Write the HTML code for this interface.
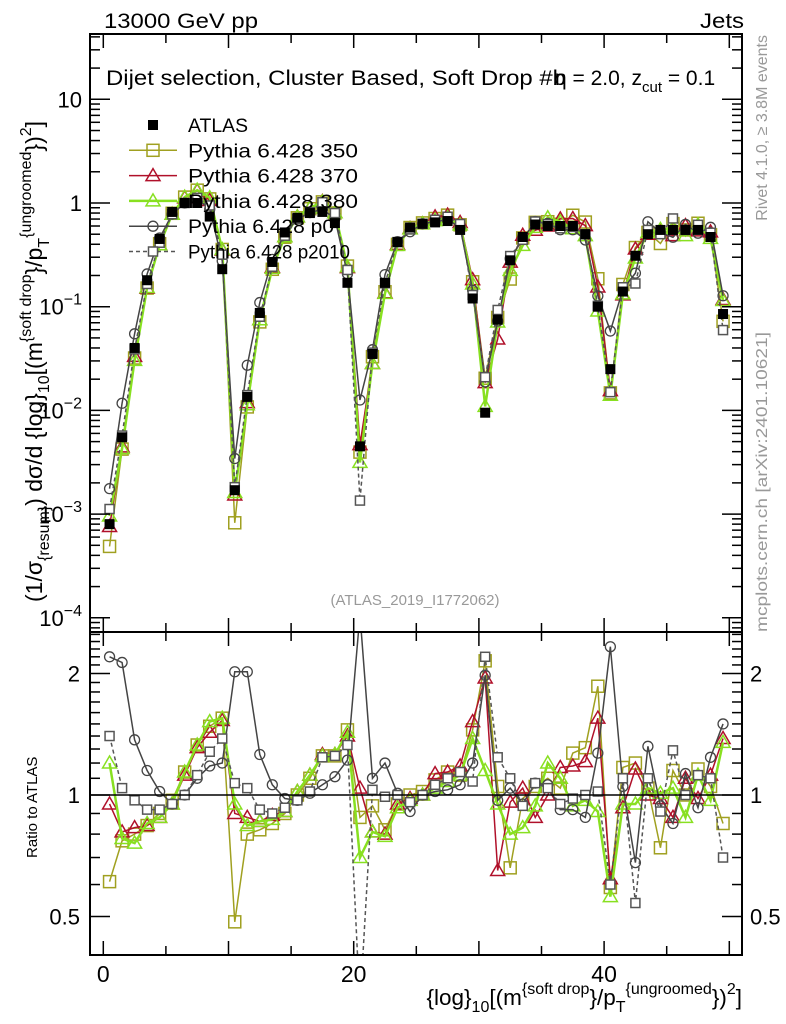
<!DOCTYPE html>
<html><head><meta charset="utf-8">
<style>
html,body{margin:0;padding:0;background:#fff;}
svg{display:block;font-family:"Liberation Sans",sans-serif;}
</style></head>
<body>
<svg id="chart" width="786" height="1024" viewBox="0 0 786 1024" xmlns="http://www.w3.org/2000/svg">
  <rect x="0" y="0" width="786" height="1024" fill="#fff"/>
  <g id="main-marks"></g>
  <g id="ratio-marks"></g>
  <rect x="90" y="34" width="652" height="598" fill="none" stroke="#000" stroke-width="2"/>
  <rect x="90" y="632" width="652" height="323" fill="none" stroke="#000" stroke-width="2"/>
  <g id="axes"></g>
  <text x="104" y="28" font-size="21" textLength="154" lengthAdjust="spacingAndGlyphs">13000 GeV pp</text>
  <text x="700" y="28" font-size="21" textLength="44" lengthAdjust="spacingAndGlyphs">Jets</text>
  <text x="106" y="85" font-size="21" textLength="460" lengthAdjust="spacingAndGlyphs">Dijet selection, Cluster Based, Soft Drop #b</text>
  <text x="555" y="85" font-size="21">η = 2.0, z<tspan font-size="15" dy="7">cut</tspan><tspan dy="-7"> = 0.1</tspan></text>
  <text x="415" y="605" font-size="15" fill="#999" text-anchor="middle">(ATLAS_2019_I1772062)</text>
  <text transform="translate(767,35) rotate(-90)" font-size="16" fill="#999" text-anchor="end">Rivet 4.1.0, ≥ 3.8M events</text>
  <text transform="translate(767,632) rotate(-90)" font-size="16" fill="#999" textLength="300" lengthAdjust="spacingAndGlyphs">mcplots.cern.ch [arXiv:2401.10621]</text>
  <text transform="translate(42,602) rotate(-90)" font-size="23">(1/σ<tspan font-size="16" dy="7">{resum}</tspan><tspan dy="-7">) dσ/d {log}</tspan><tspan font-size="16" dy="7">10</tspan><tspan dy="-7">[(m</tspan><tspan font-size="16" dy="-11">{soft drop</tspan><tspan dy="11">}/p</tspan><tspan font-size="16" dy="7">T</tspan><tspan font-size="16" dy="-18">{ungroomed</tspan><tspan dy="11">})</tspan><tspan font-size="16" dy="-11">2</tspan><tspan dy="11">]</tspan></text>
  <text transform="translate(37,858) rotate(-90)" font-size="15">Ratio to ATLAS</text>
  <text x="742" y="1005" font-size="22.5" text-anchor="end">{log}<tspan font-size="16" dy="7">10</tspan><tspan dy="-7">[(m</tspan><tspan font-size="16" dy="-11">{soft drop</tspan><tspan dy="11">}/p</tspan><tspan font-size="16" dy="7">T</tspan><tspan font-size="16" dy="-18">{ungroomed</tspan><tspan dy="11">})</tspan><tspan font-size="16" dy="-11">2</tspan><tspan dy="11">]</tspan></text>
  <g id="legend"></g>
</svg>
<script>
// ---- data ----
const binCenters = [0.5,1.5,2.5,3.5,4.5,5.5,6.5,7.5,8.5,9.5,10.5,11.5,12.5,13.5,14.5,15.5,16.5,17.5,18.5,19.5,20.5,21.5,22.5,23.5,24.5,25.5,26.5,27.5,28.5,29.5,30.5,31.5,32.5,33.5,34.5,35.5,36.5,37.5,38.5,39.5,40.5,41.5,42.5,43.5,44.5,45.5,46.5,47.5,48.5,49.5];
const atlasValues = [8e-4,5.5e-3,0.04,0.18,0.45,0.82,1.0,1.0,0.74,0.23,1.7e-3,0.0135,0.087,0.27,0.52,0.72,0.8,0.82,0.64,0.17,4.5e-3,0.035,0.17,0.42,0.58,0.63,0.65,0.67,0.55,0.12,0.0095,0.075,0.28,0.47,0.62,0.6,0.6,0.6,0.5,0.1,0.025,0.14,0.31,0.5,0.55,0.55,0.55,0.55,0.47,0.085];
const ratio350 = [0.61,0.77,0.8,0.84,0.9,0.97,1.14,1.33,1.48,1.55,0.485,0.8,0.82,0.85,0.9,1.0,1.1,1.25,1.25,1.45,0.88,0.94,0.82,0.95,1.0,1.02,1.09,1.14,1.12,1.45,2.15,1.05,0.66,0.98,1.05,1.1,1.04,1.27,1.31,1.86,0.59,1.17,1.2,1.04,0.74,1.15,1.0,1.16,1.05,0.85];
const ratio370 = [0.95,0.81,0.83,0.84,0.88,0.95,1.12,1.31,1.43,1.53,0.9,0.88,0.86,0.89,0.91,1.02,1.12,1.26,1.26,1.4,1.04,0.81,0.8,0.95,0.98,1.0,1.13,1.14,1.18,1.52,1.95,0.65,0.96,1.04,0.88,1.0,1.17,1.18,1.21,1.55,0.62,0.93,1.16,1.0,0.98,0.88,1.1,0.98,1.12,1.38];
const ratio380 = [1.2,0.78,0.76,0.85,0.88,0.95,1.14,1.33,1.52,1.55,0.95,0.84,0.86,0.87,0.91,1.02,1.12,1.25,1.26,1.43,0.7,0.81,0.79,0.93,0.97,1.0,1.04,1.08,1.12,1.38,1.15,0.95,0.8,0.83,0.94,1.2,1.1,0.94,0.97,0.91,0.56,0.95,0.95,1.04,1.01,1.04,0.88,1.12,0.97,1.35];
const ratioP0 = [2.2,2.13,1.37,1.15,1.02,0.95,1.0,1.1,1.18,1.2,2.02,2.02,1.26,1.06,0.98,0.97,1.01,1.06,1.11,1.22,2.8,1.1,1.2,1.01,0.91,1.0,1.02,1.03,1.06,1.2,1.98,0.97,1.04,0.95,1.07,1.06,0.92,0.92,0.88,1.27,2.33,1.05,0.68,1.32,0.94,0.85,1.13,0.93,1.24,1.5];
const ratioP2010 = [1.4,1.04,0.97,0.92,0.92,0.95,1.0,1.12,1.28,1.38,1.07,1.04,0.92,0.9,0.93,0.97,1.02,1.24,1.25,1.33,0.3,1.03,0.99,1.0,0.96,1.0,1.06,1.1,1.14,1.08,2.2,1.24,1.1,0.94,1.07,1.04,0.95,0.98,1.0,1.02,0.6,1.1,0.54,1.1,0.91,1.29,1.0,1.12,1.1,0.7];
const mainYTicks = [10,1,0.1,0.01,0.001,0.0001];
const mainYTickBase = ["10","1","10","10","10","10"];
const mainYTickExp = ["","","−1","−2","−3","−4"];
const ratioYTicks = [2,1,0.5];
const ratioYTickLabels = ["2","1","0.5"];
const xTicks = [0,20,40];
const xTickLabels = ["0","20","40"];

// ---- axes ----
const X0=90,X1=742,YT=34,YM=632,YB=955;
const xs = v => 103.3 + 12.52*v;
const ys = v => 203 - 103.7*Math.log10(v);
const yr = v => 795 - 121.5*Math.log2(v);
const NS="http://www.w3.org/2000/svg";
function mk(tag, attrs, parent){const e=document.createElementNS(NS,tag);for(const k in attrs)e.setAttribute(k,attrs[k]);parent.appendChild(e);return e;}
const clip = document.createElementNS(NS,'defs'); document.getElementById('chart').prepend(clip);
clip.innerHTML='<clipPath id="cm"><rect x="90" y="34" width="652" height="598"/></clipPath><clipPath id="cr"><rect x="90" y="632" width="652" height="323"/></clipPath>';
const axes=document.getElementById('axes');
for(let v=0;v<=51;v++){
  const x=xs(v); if(x<X0||x>X1) continue;
  const major = v%5===0; const len = (v%10===0)?14:(major?9:0);
  if(!len) continue;
  const t1=mk('line',{x1:x,x2:x,y1:YM,y2:YM-len,stroke:'#000','stroke-width':1.5},axes);
  
  
  const t2=mk('line',{x1:x,x2:x,y1:YT,y2:YT+len,stroke:'#000','stroke-width':1.5},axes);
  
  
  const t3=mk('line',{x1:x,x2:x,y1:YB,y2:YB-len,stroke:'#000','stroke-width':1.5},axes);
  
  
  const t4=mk('line',{x1:x,x2:x,y1:YM,y2:YM+len,stroke:'#000','stroke-width':1.5},axes);
  
  
}
xTicks.forEach((v,i)=>{
  const t=mk('text',{x:xs(v),y:982,'font-size':23,'text-anchor':'middle'},axes);
  t.textContent=xTickLabels[i];
  
  
});
for(let d=-5;d<=1;d++){
  for(let m=1;m<=9;m++){
    const v=m*Math.pow(10,d); const y=ys(v); if(y<YT||y>YM) continue;
    const len=m===1?20:10;
    const a=mk('line',{x1:X0,x2:X0+len,y1:y,y2:y,stroke:'#000','stroke-width':1.5},axes);
    
    
    const b=mk('line',{x1:X1,x2:X1-len,y1:y,y2:y,stroke:'#000','stroke-width':1.5},axes);
    
    
  }
}
mainYTicks.forEach((v,i)=>{
  const t=mk('text',{x:82,y:ys(v)+8,'font-size':22,'text-anchor':'end'},axes);
  
  
  if(mainYTickExp[i]){
    t.innerHTML=mainYTickBase[i]+'<tspan font-size="16" dy="-10">'+mainYTickExp[i]+'</tspan>';
  } else t.textContent=mainYTickBase[i];
});
for(let k=4;k<=25;k++){
  const v=k/10; const y=yr(v); if(y<YM||y>YB) continue;
  const major=(k===5||k===10||k===20); const len=major?20:10;
  const a=mk('line',{x1:X0,x2:X0+len,y1:y,y2:y,stroke:'#000','stroke-width':1.5},axes);
  
  
  const b=mk('line',{x1:X1,x2:X1-len,y1:y,y2:y,stroke:'#000','stroke-width':1.5},axes);
  
  
}
ratioYTicks.forEach((v,i)=>{
  const t=mk('text',{x:80,y:yr(v)+8,'font-size':22,'text-anchor':'end'},axes);
  t.textContent=ratioYTickLabels[i];
  
  
  const t2=mk('text',{x:750,y:yr(v)+8,'font-size':22},axes);
  t2.textContent=ratioYTickLabels[i];
  
  
});
const unity=mk('line',{x1:X0,x2:X1,y1:yr(1),y2:yr(1),stroke:'#000','stroke-width':1.5},axes);



// ---- series ----
function marker(g,kind,x,y,color,fill){
  let e;
  if(kind==='sq') e=mk('rect',{x:x-6,y:y-6,width:12,height:12,fill:fill||'none',stroke:color,'stroke-width':1.5},g);
  else if(kind==='sqs') e=mk('rect',{x:x-4.5,y:y-4.5,width:9,height:9,fill:'#fff',stroke:color,'stroke-width':1.5},g);
  else if(kind==='tri') e=mk('path',{d:`M${x},${y-7}L${x+7},${y+5}L${x-7},${y+5}Z`,fill:'none',stroke:color,'stroke-width':1.5},g);
  else if(kind==='circ') e=mk('circle',{cx:x,cy:y,r:5,fill:'none',stroke:color,'stroke-width':1.3},g);
  else if(kind==='fsq') e=mk('rect',{x:x-5,y:y-5,width:10,height:10,fill:'#000'},g);
  return e;
}
const series=[
  {name:'pythia-350',ratio:ratio350,color:'#a0a020',kind:'sq',w:1.5,dash:''},
  {name:'pythia-370',ratio:ratio370,color:'#b0102a',kind:'tri',w:1.5,dash:''},
  {name:'pythia-380',ratio:ratio380,color:'#88e020',kind:'tri',w:2.5,dash:''},
  {name:'pythia-p0',ratio:ratioP0,color:'#444',kind:'circ',w:1.5,dash:''},
  {name:'pythia-p2010',ratio:ratioP2010,color:'#555',kind:'sqs',w:1.5,dash:'4,3'}
];
const gm=document.getElementById('main-marks'); gm.setAttribute('clip-path','url(#cm)');
const gr=document.getElementById('ratio-marks'); gr.setAttribute('clip-path','url(#cr)');
series.forEach(s=>{
  const g=mk('g',{},gm);
  
  
  const pts=binCenters.map((b,i)=>[xs(b),ys(atlasValues[i]*s.ratio[i])]);
  const l=mk('polyline',{points:pts.map(p=>p.join(',')).join(' '),fill:'none',stroke:s.color,'stroke-width':s.w,'stroke-dasharray':s.dash},g);
  
  
  pts.forEach(p=>{const m=marker(g,s.kind,p[0],p[1],s.color);
    
    });
  const g2=mk('g',{},gr);
  
  
  const rp=binCenters.map((b,i)=>[xs(b),yr(s.ratio[i])]);
  const l2=mk('polyline',{points:rp.map(p=>p.join(',')).join(' '),fill:'none',stroke:s.color,'stroke-width':s.w,'stroke-dasharray':s.dash},g2);
  
  
  rp.forEach(p=>{const m=marker(g2,s.kind,p[0],p[1],s.color);
    
    });
});
const ga=mk('g',{},gm);


binCenters.forEach((b,i)=>{const m=marker(ga,'fsq',xs(b),ys(atlasValues[i]));
  
  });

// ---- legend ----
const lg=document.getElementById('legend');
const legendEntries=[
  {label:'ATLAS',kind:'fsq',color:'#000',w:0,dash:''},
  {label:'Pythia 6.428 350',kind:'sq',color:'#a0a020',w:1.5,dash:''},
  {label:'Pythia 6.428 370',kind:'tri',color:'#b0102a',w:1.5,dash:''},
  {label:'Pythia 6.428 380',kind:'tri',color:'#88e020',w:2.5,dash:''},
  {label:'Pythia 6.428 p0',kind:'circ',color:'#444',w:1.5,dash:''},
  {label:'Pythia 6.428 p2010',kind:'sqs',color:'#555',w:1.5,dash:'4,3'}
];
const legendWidths=[60,170,170,170,146,162];
legendEntries.forEach((e,i)=>{
  const y=125+25.3*i;
  const g=mk('g',{},lg);
  
  
  if(e.w){mk('line',{x1:129,x2:177,y1:y,y2:y,stroke:e.color,'stroke-width':e.w,'stroke-dasharray':e.dash},g);}
  marker(g,e.kind,153,y,e.color);
  const t=mk('text',{x:188,y:y+7,'font-size':19,textLength:legendWidths[i],lengthAdjust:'spacingAndGlyphs'},g);
  t.textContent=e.label;
});
</script>
</body></html>
